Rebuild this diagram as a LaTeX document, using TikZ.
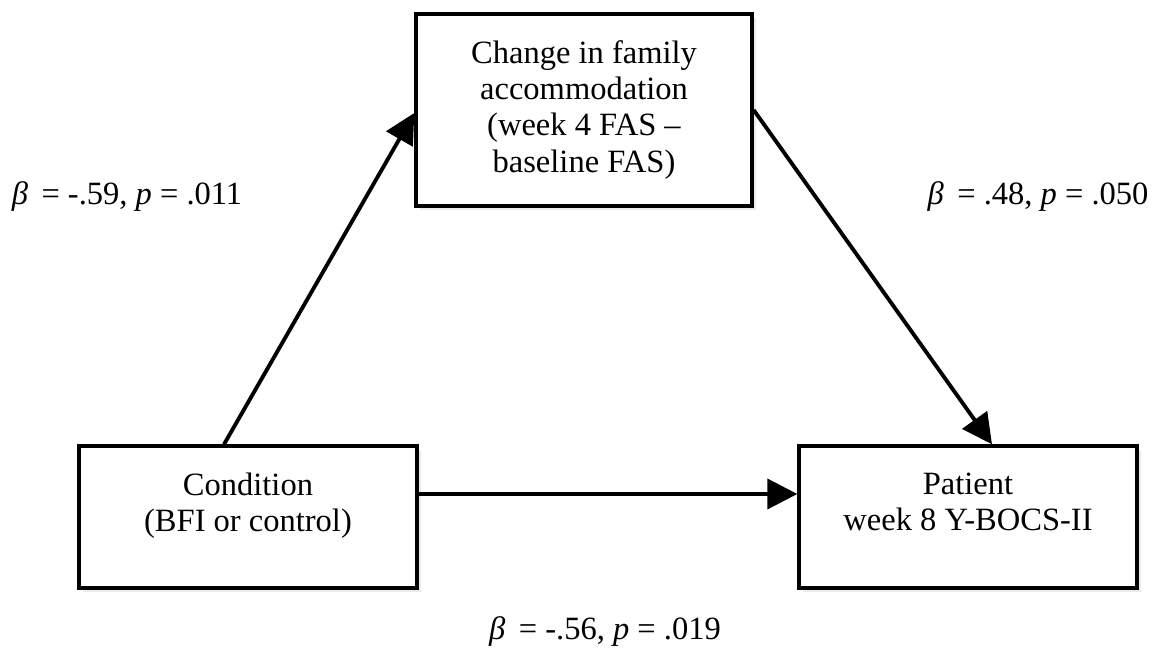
\documentclass[tikz,border=0pt]{standalone}
\usepackage{fontspec}
\setmainfont{Liberation Serif}
\usepackage{xcolor}
\usepackage{tikz}
\usetikzlibrary{arrows.meta,positioning,shadows}

\begin{document}
\begin{tikzpicture}[
  x=1cm,
  y=1cm,
  box/.style={draw=black, line width=1.9pt, fill=white, align=center, font=\fontsize{18.5}{20.5}\selectfont,
    drop shadow={opacity=0.15, shadow xshift=2pt, shadow yshift=-2.5pt}},
  arrow/.style={-{Triangle[length=6mm,width=6mm]}, line width=2.2pt, color=black},
  coef/.style={font=\fontsize{18.5}{20.5}\selectfont}
]
  \useasboundingbox (0,0) rectangle (23.04,13);

  \node[box, minimum width=6.72cm, minimum height=3.84cm] (change) at (11.68,10.8) {Change in family\\accommodation\\(week 4 FAS –\\baseline FAS)};
  \node[box, minimum width=6.76cm, minimum height=2.84cm, text depth=0.6cm] (cond) at (4.96,2.66) {Condition\\(BFI or control)};
  \node[box, minimum width=6.76cm, minimum height=2.84cm, text depth=0.6cm] (patient) at (19.36,2.66) {Patient\\week 8 Y-BOCS-II};

  \draw[arrow] ([xshift=-0.48cm]cond.north) -- ([yshift=-0.06cm]change.west);
  \draw[arrow] (change.east) -- ([xshift=0.48cm]patient.north);
  \draw[arrow] ([yshift=0.46cm]cond.east) -- ([yshift=0.46cm]patient.west);

  \node[coef] (acoef) at (2.54,9.06) {\textit{β}\,\ = -.59, \textit{p} = .011};
  \node[coef] (bcoef) at (20.76,9.06) {\textit{β}\,\ = .48, \textit{p} = .050};
  \node[coef] (ccoef) at (12.1,0.36) {\textit{β}\,\ = -.56, \textit{p} = .019};
\end{tikzpicture}
\end{document}
